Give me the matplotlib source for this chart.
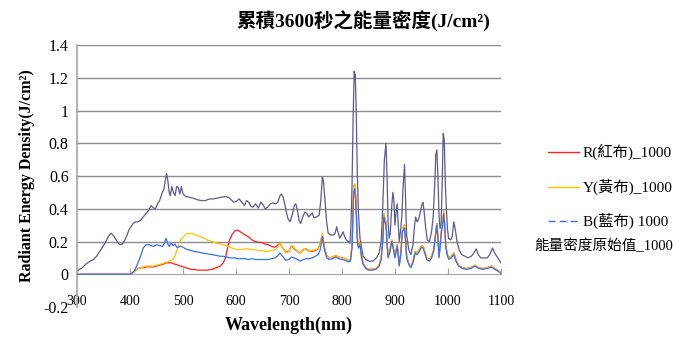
"""Cumulative 3600 s radiant energy density spectra behind red / yellow / blue cloth."""
import matplotlib
matplotlib.use("Agg")
import matplotlib.pyplot as plt
from matplotlib.lines import Line2D

plt.rcParams["font.family"] = ["Liberation Serif", "Noto Sans CJK TC"]

TITLE = "累積3600秒之能量密度(J/cm²)"
XLABEL = "Wavelength(nm)"
YLABEL = "Radiant Energy Density(J/cm²)"
LABELS = ["R(紅布)_1000", "Y(黃布)_1000", "B(藍布) 1000", "能量密度原始值_1000"]

X_TICKS = [300, 400, 500, 600, 700, 800, 900, 1000, 1100]
Y_TICKS = [-0.2, 0, 0.2, 0.4, 0.6, 0.8, 1.0, 1.2, 1.4]
Y_TICK_LABELS = ["-0.2", "0", "0.2", "0.4", "0.6", "0.8", "1", "1.2", "1.4"]

# shared wavelength grid for the three cloth series (nm)
wl_cloth = [
    300, 350, 400, 405, 410, 415, 420, 425, 430, 437,
    444, 450, 456, 461, 465, 468, 471, 474, 478, 482,
    485, 488, 491, 494, 497, 500, 505, 510, 515, 520,
    528, 536, 545, 555, 563, 570, 576, 580, 584, 588,
    593, 598, 603, 610, 617, 623, 630, 636, 642, 648,
    654, 661, 667, 673, 678, 683, 688, 694, 700, 705,
    710, 716, 721, 727, 732, 738, 744, 750, 755, 759,
    763, 767, 771, 776, 782, 788, 794, 800, 806, 812,
    816, 819, 822, 824, 826, 829, 831, 834, 837, 840,
    845, 850, 857, 864, 870, 874, 877, 879, 881, 883,
    885, 887, 890, 894, 897, 900, 904, 906, 908, 911,
    914, 918, 920, 922, 926, 930, 934, 938, 942, 946,
    950, 953, 956, 960, 965, 969, 973, 976, 979, 981,
    983, 985, 987, 990, 992, 994, 996, 999, 1002, 1006,
    1011, 1015, 1020, 1027, 1035, 1043, 1051, 1058, 1066, 1074,
    1082, 1088, 1094, 1098, 1100,
]

blue_cloth = [
    0, 0, 0, 0.01, 0.03, 0.07, 0.11, 0.16, 0.18, 0.18,
    0.17, 0.18, 0.175, 0.17, 0.19, 0.22, 0.19, 0.17, 0.19, 0.175,
    0.185, 0.165, 0.165, 0.17, 0.17, 0.165, 0.155, 0.15, 0.145, 0.14,
    0.135, 0.13, 0.125, 0.12, 0.115, 0.11, 0.11, 0.105, 0.105, 0.10,
    0.10, 0.10, 0.095, 0.095, 0.095, 0.09, 0.095, 0.09, 0.09, 0.09,
    0.09, 0.09, 0.095, 0.10, 0.11, 0.13, 0.11, 0.085, 0.09, 0.105,
    0.10, 0.09, 0.08, 0.09, 0.095, 0.095, 0.10, 0.11, 0.12, 0.15,
    0.23, 0.15, 0.10, 0.09, 0.095, 0.105, 0.095, 0.09, 0.085, 0.075,
    0.08, 0.16, 0.50, 0.52, 0.44, 0.20, 0.16, 0.18, 0.10, 0.06,
    0.035, 0.025, 0.025, 0.03, 0.05, 0.09, 0.20, 0.35, 0.32, 0.30,
    0.18, 0.10, 0.13, 0.20, 0.15, 0.10, 0.17, 0.12, 0.05, 0.12,
    0.26, 0.28, 0.20, 0.10, 0.06, 0.04, 0.07, 0.13, 0.12, 0.14,
    0.165, 0.16, 0.13, 0.09, 0.08, 0.10, 0.14, 0.22, 0.30, 0.22,
    0.10, 0.16, 0.24, 0.30, 0.37, 0.28, 0.16, 0.11, 0.09, 0.10,
    0.12, 0.08, 0.05, 0.035, 0.03, 0.035, 0.05, 0.035, 0.03, 0.035,
    0.045, 0.03, 0.02, 0.01, 0.005,
]

red_cloth = [
    0, 0, 0, 0.01, 0.02, 0.035, 0.04, 0.04, 0.045, 0.045,
    0.045, 0.05, 0.055, 0.06, 0.065, 0.07, 0.07, 0.07, 0.07, 0.065,
    0.06, 0.06, 0.055, 0.05, 0.05, 0.045, 0.04, 0.035, 0.03, 0.03,
    0.025, 0.025, 0.025, 0.03, 0.04, 0.05, 0.07, 0.10, 0.16, 0.21,
    0.245, 0.265, 0.27, 0.255, 0.24, 0.23, 0.21, 0.20, 0.195, 0.195,
    0.185, 0.18, 0.17, 0.165, 0.175, 0.19, 0.16, 0.135, 0.14, 0.175,
    0.155, 0.14, 0.13, 0.15, 0.155, 0.14, 0.14, 0.145, 0.155, 0.19,
    0.245, 0.16, 0.115, 0.10, 0.105, 0.115, 0.105, 0.10, 0.095, 0.085,
    0.09, 0.18, 0.53, 0.55, 0.47, 0.22, 0.17, 0.19, 0.11, 0.065,
    0.04, 0.03, 0.03, 0.035, 0.055, 0.10, 0.22, 0.37, 0.34, 0.32,
    0.20, 0.11, 0.14, 0.21, 0.16, 0.11, 0.18, 0.13, 0.06, 0.13,
    0.27, 0.30, 0.21, 0.11, 0.065, 0.045, 0.08, 0.14, 0.13, 0.15,
    0.175, 0.17, 0.14, 0.10, 0.09, 0.11, 0.15, 0.23, 0.31, 0.23,
    0.11, 0.17, 0.25, 0.32, 0.38, 0.29, 0.17, 0.12, 0.10, 0.11,
    0.13, 0.09, 0.055, 0.04, 0.035, 0.04, 0.055, 0.04, 0.035, 0.04,
    0.05, 0.035, 0.025, 0.015, 0.01,
]

yellow_cloth = [
    0, 0, 0, 0.01, 0.02, 0.035, 0.04, 0.045, 0.05, 0.05,
    0.05, 0.055, 0.06, 0.065, 0.07, 0.075, 0.075, 0.08, 0.085, 0.095,
    0.115, 0.14, 0.175, 0.20, 0.215, 0.225, 0.245, 0.25, 0.25, 0.245,
    0.235, 0.225, 0.21, 0.20, 0.19, 0.185, 0.18, 0.175, 0.17, 0.165,
    0.16, 0.155, 0.15, 0.15, 0.155, 0.155, 0.15, 0.15, 0.145, 0.145,
    0.14, 0.14, 0.145, 0.15, 0.165, 0.19, 0.16, 0.13, 0.14, 0.175,
    0.16, 0.14, 0.13, 0.155, 0.15, 0.14, 0.145, 0.15, 0.155, 0.19,
    0.245, 0.16, 0.115, 0.10, 0.105, 0.115, 0.105, 0.10, 0.095, 0.085,
    0.09, 0.18, 0.54, 0.55, 0.46, 0.22, 0.17, 0.19, 0.11, 0.065,
    0.04, 0.03, 0.03, 0.035, 0.055, 0.10, 0.22, 0.37, 0.34, 0.32,
    0.20, 0.11, 0.14, 0.21, 0.16, 0.11, 0.18, 0.13, 0.06, 0.13,
    0.28, 0.30, 0.21, 0.11, 0.065, 0.045, 0.08, 0.14, 0.13, 0.15,
    0.175, 0.17, 0.14, 0.10, 0.09, 0.11, 0.15, 0.23, 0.31, 0.23,
    0.11, 0.17, 0.25, 0.32, 0.39, 0.29, 0.17, 0.12, 0.10, 0.11,
    0.13, 0.09, 0.055, 0.04, 0.035, 0.04, 0.055, 0.04, 0.035, 0.04,
    0.05, 0.035, 0.025, 0.015, 0.01,
]

# unfiltered reference spectrum, its own grid
wl_raw = [
    300, 310, 318, 325, 331, 337, 343, 350, 356, 361,
    365, 369, 374, 379, 384, 389, 394, 398, 402, 406,
    410, 415, 420, 425, 430, 435, 440, 444, 448, 452,
    456, 460, 464, 467, 469, 471, 474, 476, 479, 482,
    485, 488, 491, 494, 497, 500, 505, 512, 519, 527,
    535, 542, 550, 557, 565, 573, 580, 586, 591, 596,
    601, 606, 611, 616, 620, 624, 628, 632, 637, 642,
    647, 651, 655, 660, 665, 670, 675, 679, 683, 686,
    689, 692, 695, 698, 702, 706, 710, 713, 716, 719,
    722, 726, 730, 734, 737, 740, 744, 747, 752, 757,
    760, 763, 765, 768, 771, 774, 779, 784, 787, 790,
    793, 796, 799, 802, 805, 808, 812, 815, 817, 819,
    821, 823, 825, 827, 829, 831, 834, 837, 840, 845,
    851, 858, 865, 870, 874, 877, 880, 883, 885, 887,
    889, 891, 894, 896, 898, 900, 902, 904, 906, 908,
    911, 913, 915, 918, 920, 922, 926, 930, 934, 937,
    939, 942, 945, 948, 951, 953, 955, 958, 961, 965,
    969, 972, 975, 977, 979, 981, 983, 985, 987, 989,
    991, 993, 995, 997, 999, 1001, 1005, 1008, 1011, 1014,
    1017, 1021, 1026, 1032, 1038, 1044, 1049, 1053, 1057, 1062,
    1068, 1074, 1079, 1084, 1088, 1092, 1096, 1100,
]

raw = [
    0.02, 0.04, 0.065, 0.08, 0.09, 0.11, 0.14, 0.175, 0.21, 0.24,
    0.25, 0.235, 0.21, 0.185, 0.18, 0.20, 0.235, 0.27, 0.29, 0.31,
    0.32, 0.32, 0.33, 0.35, 0.37, 0.39, 0.42, 0.405, 0.40, 0.43,
    0.45, 0.49, 0.52, 0.58, 0.615, 0.58, 0.50, 0.48, 0.535, 0.50,
    0.48, 0.535, 0.53, 0.49, 0.535, 0.49, 0.475, 0.47, 0.465, 0.455,
    0.45, 0.45, 0.46, 0.46, 0.465, 0.47, 0.475, 0.47, 0.455, 0.44,
    0.445, 0.46, 0.44, 0.42, 0.45, 0.44, 0.415, 0.41, 0.43, 0.405,
    0.44, 0.425, 0.40, 0.41, 0.43, 0.435, 0.43, 0.44, 0.48, 0.49,
    0.47, 0.43, 0.38, 0.34, 0.32, 0.36, 0.42, 0.43, 0.39, 0.33,
    0.31, 0.35, 0.38, 0.37, 0.35, 0.36, 0.375, 0.345, 0.35, 0.36,
    0.45, 0.595, 0.57, 0.45, 0.32, 0.25, 0.24, 0.24, 0.25, 0.29,
    0.25, 0.22, 0.24, 0.26, 0.23, 0.21, 0.20, 0.19, 0.30, 0.55,
    0.95, 1.24, 1.22, 0.98, 0.60, 0.38, 0.22, 0.16, 0.11, 0.09,
    0.08, 0.08, 0.10, 0.13, 0.20, 0.42, 0.70, 0.80, 0.60, 0.32,
    0.22, 0.25, 0.42, 0.50, 0.45, 0.30, 0.38, 0.43, 0.32, 0.20,
    0.28, 0.36, 0.52, 0.67, 0.45, 0.24, 0.15, 0.12, 0.18, 0.30,
    0.35, 0.32, 0.34, 0.38, 0.43, 0.44, 0.38, 0.28, 0.21, 0.20,
    0.26, 0.35, 0.55, 0.73, 0.76, 0.60, 0.36, 0.28, 0.30, 0.55,
    0.86, 0.82, 0.55, 0.40, 0.28, 0.22, 0.21, 0.23, 0.32, 0.27,
    0.20, 0.15, 0.12, 0.11, 0.10, 0.11, 0.13, 0.155, 0.12, 0.10,
    0.10, 0.10, 0.12, 0.16, 0.13, 0.11, 0.09, 0.07,
]

RED, YELLOW, BLUE, NAVY = "#ff2020", "#ffc400", "#3a6cf4", "#5a5a94"
GRID, AXIS = "#8c8c8c", "#a6a6a6"


def main():
    fig = plt.figure(figsize=(6.83, 3.41), dpi=100)
    ax = fig.add_axes([0.1127, 0.0997, 0.6208, 0.7683])

    for y in Y_TICKS[2:]:
        ax.axhline(y, color=GRID, lw=1.0, zorder=1)

    ax.plot(wl_raw, raw, color=NAVY, lw=0.9, zorder=2)
    ax.plot(wl_cloth, red_cloth, color=RED, lw=0.9, zorder=3)
    ax.plot(wl_cloth, yellow_cloth, color=YELLOW, lw=0.9, zorder=3)
    ax.plot(wl_cloth, blue_cloth, color=BLUE, lw=0.9, zorder=4)

    ax.set_xlim(300, 1100)
    ax.set_ylim(-0.2, 1.4)
    ax.set_xticks(X_TICKS)
    ax.set_xticklabels([str(t) for t in X_TICKS], fontsize=11.5)
    ax.set_yticks(Y_TICKS)
    ax.set_yticklabels(Y_TICK_LABELS, fontsize=11.5)

    for side in ("top", "right"):
        ax.spines[side].set_visible(False)
    ax.spines["bottom"].set_position(("data", 0))
    ax.spines["bottom"].set_color(AXIS)
    ax.spines["left"].set_color(AXIS)
    ax.spines["left"].set_linewidth(1.2)
    ax.tick_params(axis="x", direction="in", length=4, color=AXIS, pad=15)
    ax.tick_params(axis="y", length=0, pad=6)

    ax.set_xlabel(XLABEL, fontsize=13, fontweight="bold", labelpad=6)
    ax.set_ylabel(YLABEL, fontsize=11.5, fontweight="bold", labelpad=6)
    fig.text(0.532, 0.94, TITLE, fontsize=14, fontweight="bold",
             ha="center", va="center")

    # legend drawn by hand: Excel wrapped the last entry without its handle
    rows = [0.555, 0.453, 0.353, 0.28]
    styles = [(RED, "-"), (YELLOW, "-"), (BLUE, (0, (5, 3))), (None, None)]
    for label, y, (c, ls) in zip(LABELS, rows, styles):
        if c is None:
            fig.text(0.783, y, label, fontsize=10.5, va="center")
            continue
        fig.add_artist(Line2D([0.802, 0.848], [y, y], color=c, ls=ls, lw=1.0,
                              transform=fig.transFigure))
        fig.text(0.853, y, label, fontsize=11, va="center")

    fig.savefig("out.png", dpi=100, facecolor="white")


if __name__ == "__main__":
    main()
